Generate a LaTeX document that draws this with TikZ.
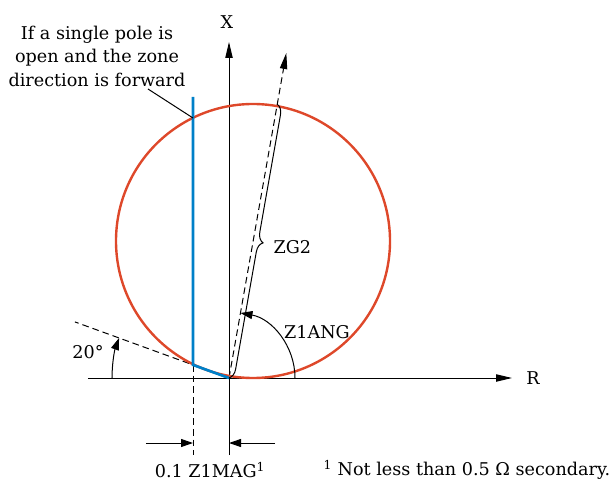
\documentclass[tikz,border=0pt]{standalone}
\usepackage{fontspec}
\setmainfont{DejaVu Serif}
\usetikzlibrary{arrows.meta,decorations.pathreplacing,calc}
\definecolor{zoneRed}{RGB}{222,72,42}
\definecolor{poleBlue}{RGB}{0,128,200}

\begin{document}
\begin{tikzpicture}[x=0.75pt,y=0.75pt,
    axis/.style={line width=0.75pt,-{Triangle[length=12pt,width=5.5pt]}},
    bent/.style={line width=0.75pt,-{Triangle[length=9pt,width=6pt]}},
    guide/.style={line width=0.75pt,dash pattern=on 5pt off 3pt},
    lbl/.style={font=\fontsize{13.2}{17.6}\selectfont,inner sep=1pt}]
  \useasboundingbox (-229,-107) rectangle (380,378);

  \coordinate (O) at (0,0);
  \coordinate (Rl) at (-141,0);
  \coordinate (Rr) at (283,0);
  \coordinate (Xb) at (0,-77);
  \coordinate (Xt) at (0,336);
  \coordinate (Zend) at (80:330);
  \coordinate (Ztop) at (80:278);
  \coordinate (Tend) at (160:164);
  \coordinate (Cc) at (24,137);

  % single pole open line
  \coordinate (Pb) at (-36,13.1);
  \coordinate (Pt) at (-36,281);
  \coordinate (Pc) at (-36,260);
  \coordinate (Pd) at (-36,-77);
  \coordinate (Lead) at (-81,289);

  % dimension arrows
  \coordinate (DLa) at (-83,-65);
  \coordinate (DLb) at (-36,-65);
  \coordinate (DRa) at (46,-65);
  \coordinate (DRb) at (0,-65);

  \draw[axis] (Rl) -- (Rr);
  \draw[axis] (Xb) -- (Xt);
  \node[lbl] (xlab) at (-2,356) {X};
  \node[lbl] (rlab) at (304,0) {R};

  \draw[guide] (O) -- (Tend);
  \draw[guide] (Pb) -- (Pd);
  \draw[guide,-{Triangle[length=12pt,width=5.5pt]}] (O) -- (Zend);

  \draw[zoneRed, line width=1.8pt] (Cc) circle (137);
  \draw[poleBlue, line width=2pt] (Pt) -- (Pb) -- (O);

  \draw[line width=0.75pt, decorate, decoration={brace, amplitude=7.5pt, mirror}] (O) -- (Ztop);
  \node[lbl, anchor=west] (zg) at (43,131) {ZG2};

  \draw[bent] (66,0) arc (0:80:66);
  \node[lbl] (ang) at (88,46) {Z1ANG};
  \draw[bent] (-117,0) arc (180:160:117);
  \node[lbl] (deg) at (-141,26) {20°};

  \node[lbl, align=center] (note) at (-132,322) {If a single pole is\\open and the zone\\direction is forward};
  \draw[line width=0.75pt] (Lead) -- (Pc);

  \draw[bent] (DLa) -- (DLb);
  \draw[bent] (DRa) -- (DRb);
  \node[lbl] (mag) at (-19,-92) {0.1 Z1MAG\textsuperscript{1}};
  \node[lbl, anchor=west] (foot) at (93,-92) {\textsuperscript{1} Not less than 0.5 Ω secondary.};
\end{tikzpicture}
\end{document}
